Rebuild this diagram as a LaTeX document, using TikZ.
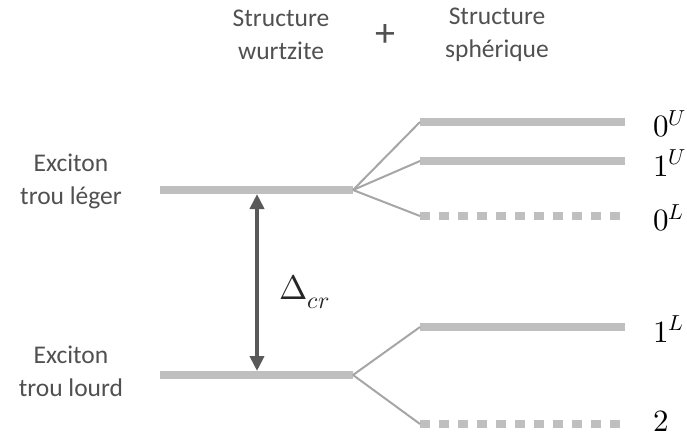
\documentclass[tikz,border=0pt]{standalone}
\usepackage{fontspec}
\usepackage{unicode-math}
\setmainfont{Carlito}
\setmathfont{Latin Modern Math}
\usetikzlibrary{arrows.meta}
\definecolor{barc}{HTML}{BFBFBF}
\definecolor{linec}{HTML}{A6A6A6}
\definecolor{txtc}{HTML}{505050}
\definecolor{arrc}{HTML}{595959}
\tikzset{
  level/.style={draw=barc, line width=8pt},
  dlevel/.style={draw=barc, line width=8pt, dash pattern=on 10pt off 9pt},
  split/.style={draw=linec, line width=2pt},
  lbl/.style={text=txtc, font=\fontsize{25.5}{33}\selectfont, align=center, inner sep=0pt},
  mlbl/.style={text=black, font=\fontsize{31}{36}\selectfont, anchor=west, inner sep=0pt},
  gap/.style={draw=arrc, line width=4pt, {Triangle[length=15pt,width=14pt]}-{Triangle[length=15pt,width=14pt]}}
}
\begin{document}
\begin{tikzpicture}[x=1pt,y=-1pt]
\useasboundingbox (0,0) rectangle (687,437);
% titles
\node[lbl] (tw) at (281,35) {Structure\\wurtzite};
\node[text=txtc, font=\fontsize{40}{40}\selectfont, inner sep=0pt] (plus) at (385,36) {+};
\node[lbl] (ts) at (497,35) {Structure\\sphérique};
% left labels
\node[lbl] (lh) at (71,181) {Exciton\\trou léger};
\node[lbl] (hh) at (71,371) {Exciton\\trou lourd};
% left levels
\coordinate (lhA) at (160,190);
\coordinate (lhB) at (353,190);
\coordinate (hhA) at (160,375);
\coordinate (hhB) at (353,375);
\draw[level] (lhA) -- (lhB);
\draw[level] (hhA) -- (hhB);
% right levels
\coordinate (u0A) at (420,122); \coordinate (u0B) at (625,122);
\coordinate (u1A) at (420,161); \coordinate (u1B) at (625,161);
\coordinate (l0A) at (420,216); \coordinate (l0B) at (625,216);
\coordinate (l1A) at (420,327); \coordinate (l1B) at (625,327);
\coordinate (s2A) at (420,424); \coordinate (s2B) at (625,424);
\draw[level] (u0A) -- (u0B);
\draw[level] (u1A) -- (u1B);
\draw[dlevel] (l0A) -- (l0B);
\draw[level] (l1A) -- (l1B);
\draw[dlevel] (s2A) -- (s2B);
% splitting lines
\draw[split] (lhB) -- (u0A);
\draw[split] (lhB) -- (u1A);
\draw[split] (lhB) -- (l0A);
\draw[split] (hhB) -- (l1A);
\draw[split] (hhB) -- (s2A);
% gap arrow
\coordinate (gT) at (257,194);
\coordinate (gB) at (257,371);
\draw[gap] (gT) -- (gB);
\node[text=black!85, font=\fontsize{34}{38}\selectfont, anchor=west, inner sep=0pt] (dcr) at (279,292) {$\Delta_{cr}$};
% right labels
\node[mlbl] (n0U) at (653,124) {$0^U$};
\node[mlbl] (n1U) at (653,163) {$1^U$};
\node[mlbl] (n0L) at (653,218) {$0^L$};
\node[mlbl] (n1L) at (653,329) {$1^L$};
\node[mlbl] (n2) at (653,421) {$2$};
\end{tikzpicture}
\end{document}
